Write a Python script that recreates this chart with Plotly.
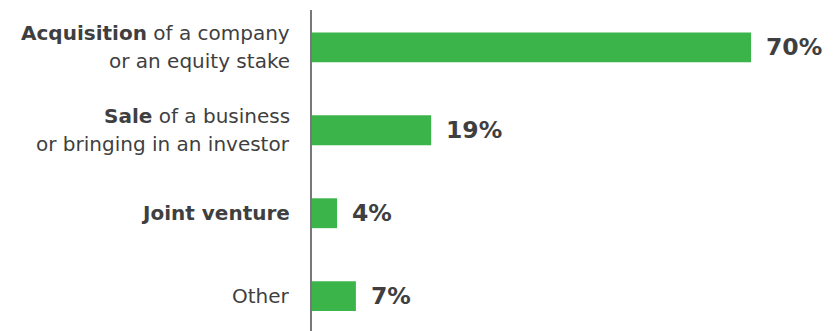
import plotly.graph_objects as go

# Deal types and share of respondents (%)
categories = ["Acquisition", "Sale", "Joint venture", "Other"]
label_bold = ["Acquisition", "Sale", "Joint venture", ""]
label_rest = [" of a company", " of a business", "", "Other"]
label_line2 = ["or an equity stake", "or bringing in an investor", "", ""]
values = [70, 19, 4, 7]
value_text = [f"{v}%" for v in values]

GREEN = "#3bb54a"
TEXT = "#3f3f41"
FONT = "DejaVu Sans"
LABEL_SIZE = 20
VALUE_SIZE = 23.5

fig = go.Figure(
    go.Bar(
        x=values,
        y=categories,
        orientation="h",
        marker=dict(color=GREEN, line=dict(width=0)),
        width=0.36,
        hoverinfo="skip",
    )
)

annotations = []
for cat, b, r, l2, v, t in zip(categories, label_bold, label_rest,
                               label_line2, values, value_text):
    line1 = (f"<b>{b}</b>" if b else "") + r
    two_lines = bool(l2)
    # category label to the left of the axis, one annotation per line
    annotations.append(dict(
        x=0, y=cat, xref="x", yref="y", text=line1, showarrow=False,
        xanchor="right", align="right", xshift=-20,
        yshift=14 if two_lines else 0,
        font=dict(family=FONT, size=LABEL_SIZE, color=TEXT),
    ))
    if two_lines:
        annotations.append(dict(
            x=0, y=cat, xref="x", yref="y", text=l2, showarrow=False,
            xanchor="right", align="right", xshift=-20, yshift=-14,
            font=dict(family=FONT, size=LABEL_SIZE, color=TEXT),
        ))
    # value label just past the end of the bar
    annotations.append(dict(
        x=v, y=cat, xref="x", yref="y", text=f"<b>{t}</b>", showarrow=False,
        xanchor="left", xshift=13,
        font=dict(family=FONT, size=VALUE_SIZE, color=TEXT),
    ))

fig.update_layout(
    width=837, height=331,
    margin=dict(l=312, r=0, t=10, b=0),
    paper_bgcolor="white", plot_bgcolor="white",
    showlegend=False,
    annotations=annotations,
    xaxis=dict(range=[0, 83.7], showgrid=False, zeroline=False,
               showticklabels=False, showline=False, fixedrange=True),
    yaxis=dict(range=[3.42, -0.45], showgrid=False, zeroline=False,
               showticklabels=False, showline=True, linecolor="#77787b",
               linewidth=2, fixedrange=True),
)

fig.write_html("out.html")
